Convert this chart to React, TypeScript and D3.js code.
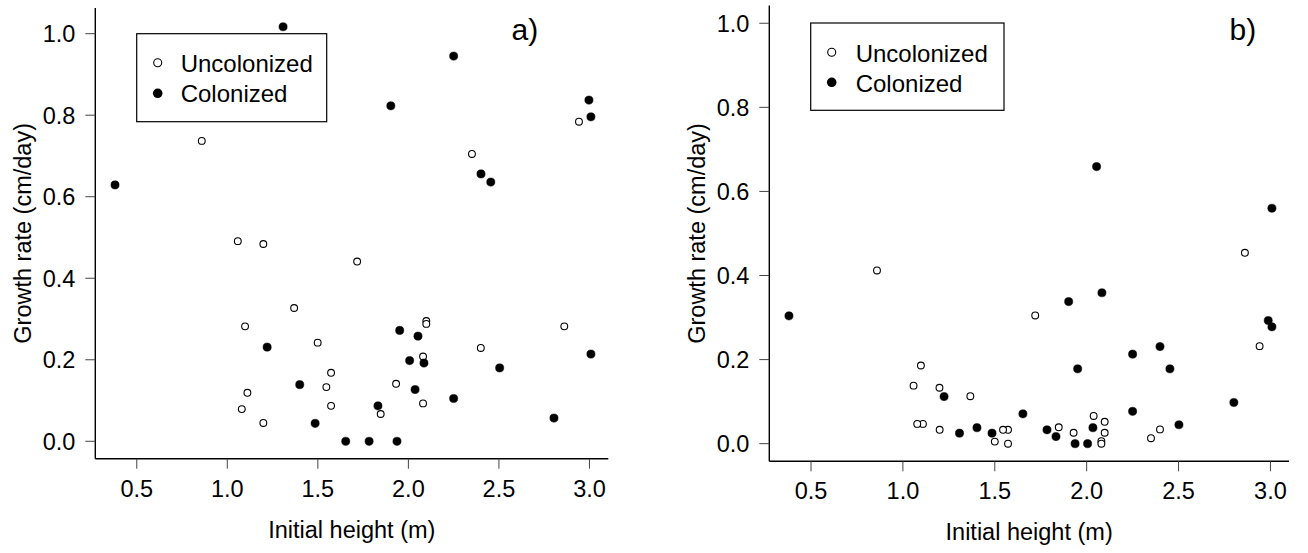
import React from "react";
import * as d3 from "d3";

// ---------- Data ----------
// Panel a) growth rate in height (cm/day) vs initial height (m)
const aUncolX = [0.859, 1.058, 1.199, 1.717, 1.369, 1.098, 1.499, 1.573, 1.547, 1.111, 1.573, 1.08, 1.199, 2.099, 2.099, 2.861, 2.4, 2.081, 1.932, 2.081, 1.847, 2.942, 2.351];
const aUncolY = [0.737, 0.491, 0.484, 0.441, 0.327, 0.282, 0.242, 0.168, 0.133, 0.119, 0.087, 0.079, 0.045, 0.295, 0.288, 0.282, 0.229, 0.208, 0.141, 0.093, 0.067, 0.784, 0.705];
const aColX = [0.38, 1.308, 2.25, 1.903, 2.997, 3.008, 2.401, 2.455, 1.22, 1.4, 1.485, 1.654, 1.952, 2.053, 3.008, 2.007, 2.086, 2.504, 2.037, 2.25, 1.832, 2.804, 1.783, 1.937];
const aColY = [0.629, 1.017, 0.945, 0.823, 0.837, 0.796, 0.656, 0.636, 0.231, 0.139, 0.044, 0.0, 0.272, 0.258, 0.214, 0.198, 0.192, 0.18, 0.127, 0.105, 0.087, 0.057, 0.0, 0.0];

// Panel b)
const bUncolX = [0.859, 1.058, 1.199, 1.72, 1.367, 1.098, 1.5, 1.572, 1.545, 1.109, 1.572, 1.078, 1.2, 2.098, 2.098, 2.861, 2.399, 2.08, 1.929, 2.08, 1.848, 2.941, 2.35, 2.038];
const bUncolY = [0.412, 0.138, 0.133, 0.305, 0.113, 0.186, 0.005, 0.033, 0.033, 0.047, 0.0, 0.047, 0.033, 0.052, 0.026, 0.454, 0.034, 0.006, 0.026, 0.0, 0.039, 0.232, 0.013, 0.066];
const bColX = [0.38, 1.308, 1.902, 3.008, 2.988, 3.008, 2.399, 2.453, 1.224, 1.403, 1.485, 1.653, 1.951, 2.054, 2.005, 2.083, 2.502, 2.034, 1.833, 2.801, 1.784, 1.937, 2.25, 2.25];
const bColY = [0.304, 0.025, 0.338, 0.56, 0.293, 0.278, 0.231, 0.178, 0.112, 0.038, 0.025, 0.071, 0.178, 0.659, 0.0, 0.359, 0.045, 0.038, 0.017, 0.098, 0.033, 0.0, 0.213, 0.077];

const xTicks = [0.5, 1.0, 1.5, 2.0, 2.5, 3.0];
const yTicks = [0.0, 0.2, 0.4, 0.6, 0.8, 1.0];
const legendLabels = ["Uncolonized", "Colonized"];
const xTitle = "Initial height (m)";
const yTitle = "Growth rate (cm/day)";

const FONT = "'Liberation Sans', Arial, Helvetica, sans-serif";

type PanelProps = {
  label: string;
  uncolX: number[];
  uncolY: number[];
  colX: number[];
  colY: number[];
  xDomain: [number, number];
  yDomain: [number, number];
  left: number;
  right: number;
  top: number;
  bottom: number;
  legend: { x0: number; y0: number; x1: number; y1: number; symX: number; symY: number[]; textX: number; dy: number };
  labelX: number;
  labelY: number;
};

function Panel(p: PanelProps) {
  const x = d3.scaleLinear().domain(p.xDomain).range([p.left, p.right]);
  const y = d3.scaleLinear().domain(p.yDomain).range([p.bottom, p.top]);
  const tickLen = 10;
  const uncol = p.uncolX.map((v, i) => [v, p.uncolY[i]]);
  const col = p.colX.map((v, i) => [v, p.colY[i]]);
  return (
    <g>
      {/* L-shaped box */}
      <line x1={p.left} x2={p.left} y1={p.top} y2={p.bottom} stroke="#000" strokeWidth={1.4} />
      <line x1={p.left} x2={p.right} y1={p.bottom} y2={p.bottom} stroke="#000" strokeWidth={1.4} />
      {yTicks.map((t) => (
        <g key={"y" + t}>
          <line x1={p.left - tickLen} x2={p.left} y1={y(t)} y2={y(t)} stroke="#444" strokeWidth={1} />
          <text x={p.left - 20} y={y(t) + 8.5} textAnchor="end" fontSize={23.5} fontFamily={FONT} fill="#000">
            {t.toFixed(1)}
          </text>
        </g>
      ))}
      {xTicks.map((t) => (
        <g key={"x" + t}>
          <line x1={x(t)} x2={x(t)} y1={p.bottom} y2={p.bottom + tickLen} stroke="#444" strokeWidth={1} />
          <text x={x(t)} y={p.bottom + 38} textAnchor="middle" fontSize={23.5} fontFamily={FONT} fill="#000">
            {t.toFixed(1)}
          </text>
        </g>
      ))}
      <text x={(p.left + p.right) / 2} y={p.bottom + 79} textAnchor="middle" fontSize={23.5} fontFamily={FONT} fill="#000">
        {xTitle}
      </text>
      <text
        transform={`translate(${p.left - 64},${(p.top + p.bottom) / 2}) rotate(-90)`}
        textAnchor="middle"
        fontSize={23.5}
        fontFamily={FONT}
        fill="#000"
      >
        {yTitle}
      </text>
      {uncol.map((d, i) => (
        <circle key={"u" + i} cx={x(d[0])} cy={y(d[1])} r={3.4} fill="#fff" stroke="#000" strokeWidth={1.1} />
      ))}
      {col.map((d, i) => (
        <circle key={"c" + i} cx={x(d[0])} cy={y(d[1])} r={4.1} fill="#000" stroke="#000" strokeWidth={0.5} />
      ))}
      {/* Legend */}
      <rect
        x={p.legend.x0}
        y={p.legend.y0}
        width={p.legend.x1 - p.legend.x0}
        height={p.legend.y1 - p.legend.y0}
        fill="#fff"
        stroke="#000"
        strokeWidth={1.2}
      />
      <circle cx={p.legend.symX} cy={p.legend.symY[0]} r={4} fill="#fff" stroke="#000" strokeWidth={1.1} />
      <circle cx={p.legend.symX} cy={p.legend.symY[1]} r={4.8} fill="#000" />
      {legendLabels.map((l, i) => (
        <text key={l} x={p.legend.textX} y={p.legend.symY[i] + p.legend.dy} fontSize={24} fontFamily={FONT} fill="#000">
          {l}
        </text>
      ))}
      <text x={p.labelX} y={p.labelY} fontSize={30} fontFamily={FONT} fill="#000">
        {p.label}
      </text>
    </g>
  );
}

export default function App() {
  return (
    <svg
      width={1308}
      height={553}
      viewBox="0 0 1308 553"
      style={{ position: "absolute", left: 0, top: 0, background: "#fff" }}
    >
      <rect x={0} y={0} width={1308} height={553} fill="#fff" />
      <Panel
        label="a)"
        uncolX={aUncolX}
        uncolY={aUncolY}
        colX={aColX}
        colY={aColY}
        xDomain={[0.271, 3.104]}
        yDomain={[-0.0427, 1.063]}
        left={95.3}
        right={608.3}
        top={8}
        bottom={458.7}
        legend={{ x0: 136.7, y0: 33.7, x1: 326.7, y1: 121.7, symX: 157.7, symY: [62.7, 93.3], textX: 180.7, dy: 9 }}
        labelX={511.5}
        labelY={40}
      />
      <Panel
        label="b)"
        uncolX={bUncolX}
        uncolY={bUncolY}
        colX={bColX}
        colY={bColY}
        xDomain={[0.273, 3.101]}
        yDomain={[-0.0419, 1.042]}
        left={769.3}
        right={1289}
        top={5.6}
        bottom={461.3}
        legend={{ x0: 810.7, y0: 23, x1: 1004, y1: 110.3, symX: 831.7, symY: [52.3, 82.3], textX: 855.7, dy: 9.5 }}
        labelX={1229.5}
        labelY={40}
      />
    </svg>
  );
}
